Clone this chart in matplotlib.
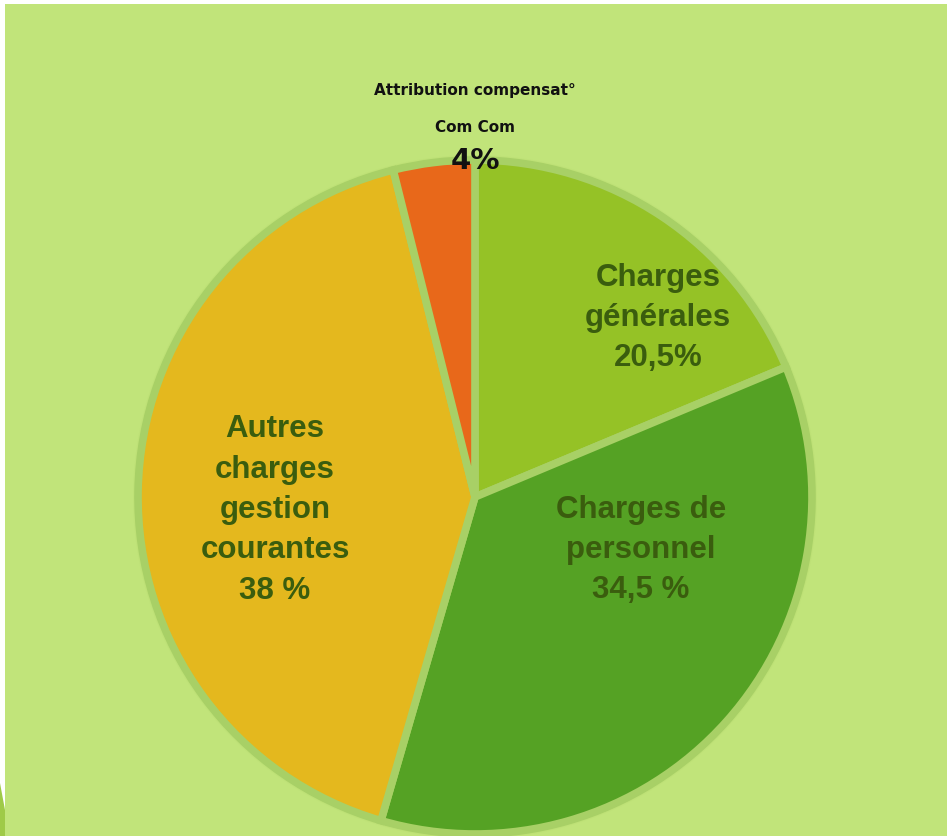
import matplotlib.pyplot as plt
import matplotlib.patches as patches

# Data
labels = ["Charges\ngénérales\n20,5%", "Charges de\npersonnel\n34,5 %",
          "Autres\ncharges\ngestion\ncourantes\n38 %", ""]
values = [18.7, 35.8, 41.6, 3.9]
colors = ['#95c226', '#55a224', '#e4b81e', '#e8681a']
label_pos = [(658, 318), (641, 550), (275, 510)]

W, H = 947, 836
bg = '#c1e47a'
txt = '#3a5d0e'

fig = plt.figure(figsize=(W / 100, H / 100), dpi=100, facecolor='white')
ax = fig.add_axes([0, 0, 1, 1])

# background panel (white strip on top/left)
ax.add_patch(patches.Rectangle((5, 0), W - 5, H - 4, facecolor=bg, edgecolor='none', zorder=0))
ax.add_patch(patches.Polygon([(0, H - 783), (5, H - 810), (5, 0), (0, 0)],
                             closed=True, facecolor='#9fca48', edgecolor='none', zorder=0))

cx, cy, r = 475, H - 497, 337

# soft shadow
for k, a in [(5, 0.15), (3, 0.25)]:
    ax.add_patch(patches.Circle((cx, cy), r + k, facecolor='#aed265', edgecolor='none', alpha=a, zorder=1))

wedges, _ = ax.pie(values, colors=colors, startangle=90, counterclock=False,
                   center=(cx, cy), radius=r,
                   wedgeprops=dict(edgecolor='#a8d066', linewidth=5.5))
for w in wedges:
    w.set_zorder(2)

for lab, (x, y) in zip(labels, label_pos):
    ax.text(x, H - y, lab, ha='center', va='center', fontsize=22.5, fontweight='bold',
            family='Liberation Sans', color=txt, linespacing=1.45, zorder=3)

ax.text(475, H - 90, "Attribution compensat°", ha='center', va='center', fontsize=11,
        fontweight='bold', family='DejaVu Sans', color='#111111', zorder=3)
ax.text(475, H - 128, "Com Com", ha='center', va='center', fontsize=11,
        fontweight='bold', family='DejaVu Sans', color='#111111', zorder=3)
ax.text(475, H - 161, "4%", ha='center', va='center', fontsize=21,
        fontweight='bold', family='DejaVu Sans', color='#111111', zorder=3)

ax.set_xlim(0, W)
ax.set_ylim(0, H)
ax.set_aspect('auto')
ax.axis('off')

fig.savefig('out.png', dpi=100, facecolor='white')
